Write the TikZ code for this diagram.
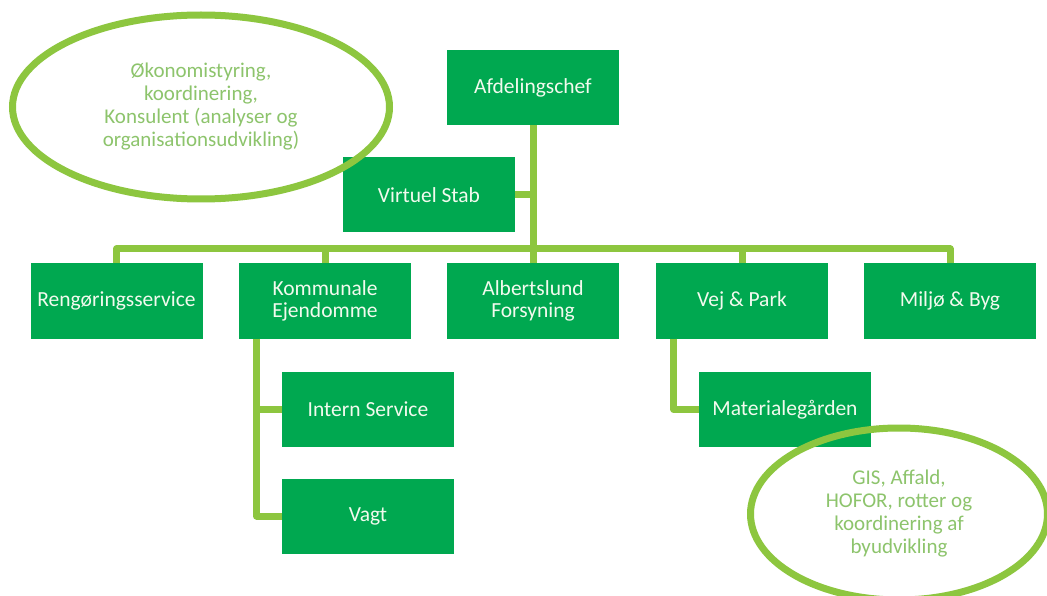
\documentclass[tikz,border=0pt]{standalone}
\usepackage{fontspec}
\setmainfont{Carlito}
\usetikzlibrary{shapes.geometric}
\definecolor{unitgreen}{RGB}{0,168,80}
\definecolor{linegreen}{RGB}{141,198,63}
\definecolor{notegreen}{RGB}{141,196,108}
\definecolor{unittext}{RGB}{242,250,238}
\tikzstyle{unitbox}=[fill=unitgreen,text=unittext,minimum width=172pt,minimum height=75pt,inner sep=0pt,align=center,font=\fontsize{21.5}{22}\selectfont]
\tikzstyle{orgline}=[draw=linegreen,line width=7pt,line join=round]
\tikzstyle{noteellipse}=[ellipse,draw=linegreen,line width=7pt,text=notegreen,align=center,inner sep=0pt,font=\fontsize{21}{23}\selectfont]

\begin{document}
\begin{tikzpicture}[x=1pt,y=-1pt]
	\useasboundingbox[fill=white] (0,0) rectangle (1047,596);
	% top
	\node[unitbox] (chef) at (533,87.5) {Afdelingschef};
	\node[unitbox] (stab) at (429,195) {Virtuel Stab};
	% units
	\node[unitbox] (reng) at (116.5,301) {Rengøringsservice};
	\node[unitbox] (komm) at (325,301) {Kommunale\\Ejendomme};
	\node[unitbox] (albf) at (533,301) {Albertslund\\Forsyning};
	\node[unitbox] (vej) at (742,301) {Vej \& Park};
	\node[unitbox] (milj) at (950,301) {Miljø \& Byg};
	% sub units
	\node[unitbox] (intern) at (368,409.5) {Intern Service};
	\node[unitbox] (vagt) at (368,516) {Vagt};
	\node[unitbox] (mat) at (785,409.5) {Materialegården};
	\coordinate (bar) at (533,249);
	\coordinate (kommdrop) at ([xshift=18pt]komm.south west);
	\coordinate (vejdrop) at ([xshift=18pt]vej.south west);
	% lines
	\draw[orgline] (reng.north) -- (reng.north |- bar) -- (milj.north |- bar) -- (milj.north);
	\draw[orgline] (chef.south) -- (bar);
	\draw[orgline] (stab.east) -- (stab.east -| chef.south);
	\foreach \u in {komm,albf,vej}
		\draw[orgline] (\u.north) -- (\u.north |- bar);
	\draw[orgline] (kommdrop) |- (vagt.west);
	\draw[orgline] (kommdrop |- intern.west) -- (intern.west);
	\draw[orgline] (vejdrop) |- (mat.west);
	% notes
	\node[noteellipse,minimum width=377pt,minimum height=184pt] (stabnote) at (201,107) {Økonomistyring,\\koordinering,\\Konsulent (analyser og\\organisationsudvikling)};
	\node[noteellipse,minimum width=297pt,minimum height=172pt] (vejnote) at (899,514) {GIS, Affald,\\HOFOR, rotter og\\koordinering af\\byudvikling};
\end{tikzpicture}
\end{document}
